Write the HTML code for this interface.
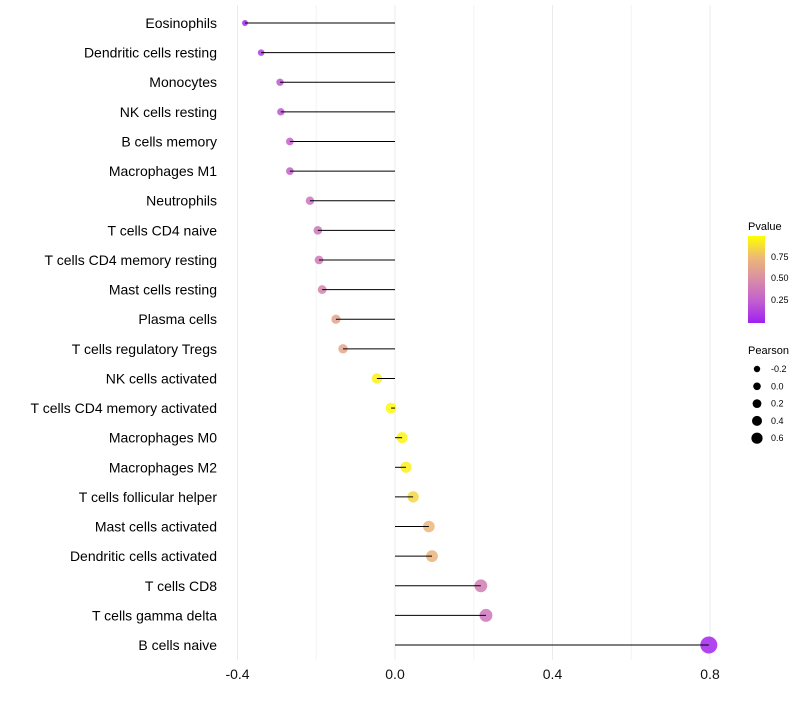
<!DOCTYPE html>
<html><head><meta charset="utf-8"><style>
body{margin:0;background:#fff;font-family:"Liberation Sans",sans-serif}
</style></head><body>
<svg id="chart" width="800" height="700" xmlns="http://www.w3.org/2000/svg">
<defs><linearGradient id="pg" x1="0" y1="1" x2="0" y2="0">
<stop offset="0" stop-color="#A020F0"/><stop offset="0.25" stop-color="#C25ED0"/><stop offset="0.5" stop-color="#D88DA6"/><stop offset="0.75" stop-color="#EDB877"/><stop offset="1" stop-color="#FFFF00"/></linearGradient></defs>
<g id="grid"></g>
<g id="dots"></g>
<g id="marks"></g>
<g id="labels"></g>
<g id="xt"></g>
<g>
<text x="748" y="230" font-size="11">Pvalue</text>
<rect x="748" y="236" width="17" height="87" fill="url(#pg)"/>
<text x="771" y="260" font-size="9">0.75</text>
<text x="771" y="281" font-size="9">0.50</text>
<text x="771" y="303" font-size="9">0.25</text>
</g>
<g id="sl">
<text x="748" y="354" font-size="11">Pearson</text>
</g>
</svg>
<script>
const cells=["Eosinophils","Dendritic cells resting","Monocytes","NK cells resting","B cells memory","Macrophages M1","Neutrophils","T cells CD4 naive","T cells CD4 memory resting","Mast cells resting","Plasma cells","T cells regulatory  Tregs ","NK cells activated","T cells CD4 memory activated","Macrophages M0","Macrophages M2","T cells follicular helper","Mast cells activated","Dendritic cells activated","T cells CD8","T cells gamma delta","B cells naive"];
const pearson=[-0.381,-0.340,-0.292,-0.290,-0.267,-0.267,-0.216,-0.196,-0.193,-0.185,-0.150,-0.132,-0.046,-0.010,0.018,0.028,0.046,0.086,0.094,0.218,0.231,0.797];
const pvalue=[0.03,0.12,0.22,0.22,0.27,0.27,0.36,0.38,0.40,0.45,0.62,0.64,0.95,0.98,0.96,0.94,0.86,0.74,0.72,0.42,0.38,0.02];
const xticks=[-0.4,0,0.4,0.8];
const xtickLabels=["-0.4","0.0","0.4","0.8"];
const minorTicks=[-0.2,0.2,0.6];
const sizeLegend=[-0.2,0,0.2,0.4,0.6];
const NS="http://www.w3.org/2000/svg";
const X=v=>395+v*393.75;
const Y=i=>23+i*29.62;
const R=v=>Math.max(1.6,1.22*Math.sqrt(Math.max(2.25,7.3+36.6*(v+0.34))));
const stops=[[0,[160,32,240]],[0.25,[194,94,208]],[0.5,[216,141,166]],[0.75,[237,184,119]],[1,[255,255,0]]];
function col(p){for(let i=1;i<stops.length;i++){if(p<=stops[i][0]){const a=stops[i-1],b=stops[i],t=(p-a[0])/(b[0]-a[0]);return "rgb("+a[1].map((c,k)=>Math.round(c+(b[1][k]-c)*t)).join(",")+")";}}return "rgb(255,255,0)";}
function mk(t,at,parent){const e=document.createElementNS(NS,t);for(const k in at)e.setAttribute(k,at[k]);document.getElementById(parent).appendChild(e);return e;}
minorTicks.forEach(v=>{const l=mk("line",{x1:X(v),x2:X(v),y1:5,y2:660,stroke:"#f3f3f3","stroke-width":1},"grid");

});
xticks.forEach((v,i)=>{const l=mk("line",{x1:X(v),x2:X(v),y1:5,y2:660,stroke:"#ebebeb","stroke-width":1},"grid");


const t=mk("text",{x:X(v),y:679,"font-size":14,"text-anchor":"middle",fill:"#111"},"xt");t.textContent=xtickLabels[i];

});
cells.forEach((c,i)=>{const y=Y(i);
const t=mk("text",{x:217,y:y+5,"font-size":14,"text-anchor":"end",fill:"#000"},"labels");t.textContent=c;


const d=mk("circle",{cx:X(pearson[i]),cy:y,r:R(pearson[i]),fill:col(pvalue[i]),"fill-opacity":0.85},"dots");


const l=mk("line",{x1:X(0),x2:X(pearson[i]),y1:y,y2:y,stroke:"#000","stroke-width":1},"marks");

});
sizeLegend.forEach((v,i)=>{const y=369+i*17.3;
const d=mk("circle",{cx:757,cy:y,r:3.2+i*0.6,fill:"#000"},"sl");


const t=mk("text",{x:771,y:y+3,"font-size":9},"sl");t.textContent=v===0?"0.0":String(v);

});
</script>
</body></html>
